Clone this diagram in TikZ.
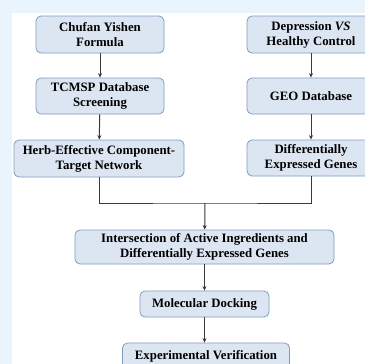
\documentclass[tikz,border=0pt]{standalone}
\usepackage{fontspec}
\setmainfont{Liberation Serif}
\usetikzlibrary{arrows.meta}
\definecolor{bgblue}{HTML}{EAF4FC}
\definecolor{boxfill}{HTML}{DCE6F2}
\definecolor{boxdraw}{HTML}{7F9CC0}
\definecolor{lineg}{HTML}{3A3A3A}
\tikzset{
  flowbox/.style={draw=boxdraw, fill=boxfill, line width=0.8pt, rounded corners=5pt,
    align=center, font=\bfseries\fontsize{12.8}{15}\selectfont, inner sep=0pt},
  conn/.style={draw=lineg, line width=1pt},
  arr/.style={conn, -{Stealth[length=4.5pt,width=4pt]}}
}
\begin{document}
\begin{tikzpicture}[x=1pt,y=-1pt]
\useasboundingbox (0,0) rectangle (365,364);
\clip (0,0) rectangle (365,364);
\fill[bgblue] (0,0) rectangle (365,364);
\fill[white] (12,13) rectangle (365,364);
\node[flowbox, minimum width=128pt, minimum height=37pt] (A) at (100,34.5) {Chufan Yishen\\Formula};
\node[flowbox, minimum width=128pt, minimum height=36pt] (B) at (100,96) {TCMSP Database\\Screening};
\node[flowbox, minimum width=170pt, minimum height=37pt] (C) at (99,158.5) {Herb-Effective Component-\\Target Network};
\node[flowbox, minimum width=128pt, minimum height=37pt] (D) at (311,34.5) {Depression \textit{VS}\\Healthy Control};
\node[flowbox, minimum width=128pt, minimum height=36pt] (E) at (311,96) {GEO Database};
\node[flowbox, minimum width=128pt, minimum height=36pt] (F) at (311,158) {Differentially\\Expressed Genes};
\node[flowbox, minimum width=259pt, minimum height=34pt] (G) at (204.5,247) {Intersection of Active Ingredients and\\Differentially Expressed Genes};
\node[flowbox, minimum width=129pt, minimum height=26pt] (H) at (204.5,304) {Molecular Docking};
\node[flowbox, minimum width=167pt, minimum height=27pt] (I) at (206,356.5) {Experimental Verification};
\coordinate (J) at (205,203);
\draw[arr] (A) -- (B);
\draw[arr] (B) -- (C);
\draw[arr] (D) -- (E);
\draw[arr] (E) -- (F);
\draw[conn] (C.south) |- (J) -| (F.south);
\draw[arr] (J) -- (G);
\draw[arr] (G) -- (H);
\draw[arr] (H) -- (H|-I.north);
\end{tikzpicture}
\end{document}
